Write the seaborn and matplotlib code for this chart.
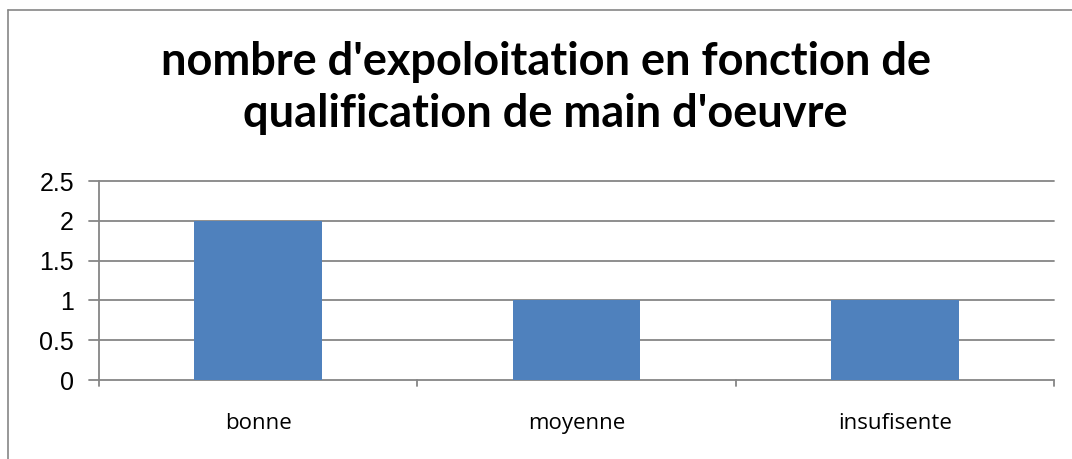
import pandas as pd
import seaborn as sns
import matplotlib.pyplot as plt
from matplotlib.lines import Line2D

# chart values
categories = ["bonne", "moyenne", "insufisente"]
counts = [2, 1, 1]
y_ticks = [0, 0.5, 1, 1.5, 2, 2.5]
y_tick_labels = ["0", "0.5", "1", "1.5", "2", "2.5"]
title_lines = ["nombre d'expoloitation en fonction de", "qualification de main d'oeuvre"]

df = pd.DataFrame({"qualification": categories, "nombre": counts})

sns.set_style("white")
grey = "#868686"

fig = plt.figure(figsize=(10.72, 4.59), dpi=100)
ax = fig.add_axes([99 / 1072, 1 - 380 / 459, (1054 - 99) / 1072, (380 - 181) / 459])

sns.barplot(data=df, x="qualification", y="nombre", color="#4F81BD",
            saturation=1, width=0.4, linewidth=0, ax=ax, zorder=3)

ax.set_ylim(0, 2.5)
ax.set_xlim(-0.5, 2.5)
ax.set_yticks(y_ticks)
ax.set_yticklabels(y_tick_labels, fontfamily="Liberation Sans", fontsize=18, color="black")
ax.set_xticks([0, 1, 2])
ax.set_xticklabels(categories, fontfamily="Open Sans", fontsize=16, color="black")
ax.tick_params(axis="x", length=0, pad=24)
ax.tick_params(axis="y", length=0, pad=18)
ax.set_xlabel("")
ax.set_ylabel("")

# horizontal gridlines incl. the y tick marks sticking out left
for v in y_ticks:
    ax.plot([-0.53, 2.5], [v, v], color=grey, lw=1.3, zorder=2, clip_on=False)

for s in ["top", "right", "bottom"]:
    ax.spines[s].set_visible(False)
ax.spines["left"].set_color(grey)
ax.spines["left"].set_linewidth(1.3)

# category boundary ticks below the axis
for b in [-0.5, 0.5, 1.5, 2.5]:
    ax.plot([b, b], [0, -0.08], color=grey, lw=1.3, clip_on=False)

# two-line title, each line placed on its baseline
for line, base in zip(title_lines, [75, 127]):
    fig.text(0.509, 1 - base / 459, line, ha="center", va="baseline",
             fontfamily="Lato", fontweight="bold", fontsize=32.5, color="black")

# chart frame (top and left edges)
fig.add_artist(Line2D([8 / 1072, 1.0], [1 - 10 / 459, 1 - 10 / 459], color=grey, lw=1.2))
fig.add_artist(Line2D([8 / 1072, 8 / 1072], [0, 1 - 10 / 459], color=grey, lw=1.2))

fig.savefig("out.png", dpi=100, facecolor="white")
